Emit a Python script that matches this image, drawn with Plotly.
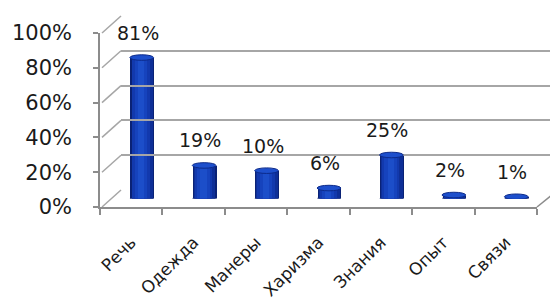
import plotly.graph_objects as go

categories = ["Речь", "Одежда", "Манеры", "Харизма", "Знания", "Опыт", "Связи"]
bar_heights = [81, 19, 16, 6, 25, 2, 1]
bar_labels = ["81%", "19%", "10%", "6%", "25%", "2%", "1%"]
y_ticks = [0, 20, 40, 60, 80, 100]
y_tick_labels = ["0%", "20%", "40%", "60%", "80%", "100%"]

W, H = 550, 300
FONT = "DejaVu Sans"
GRID = "#a6a6a6"
AXIS = "#8c8c8c"

def px(x):
    return x / W

def py(y):
    return 1 - y / H

# perspective geometry (pixels)
front = dict(x0=100, x1=537, y0=207, y1=33)
depth_dx, depth_dy = 21, -17
mid = dict(x0=front["x0"] + depth_dx / 2, x1=front["x1"] + depth_dx / 2,
           y0=front["y0"] + depth_dy / 2, y1=front["y1"] + depth_dy / 2)
back = dict(x0=front["x0"] + depth_dx, y0=front["y0"] + depth_dy,
            y1=front["y1"] + depth_dy)

n = len(categories)
xs = list(range(n))
xr = [-0.5, n - 0.5]

fig = go.Figure()

# cylinder shading as overlaid bars (outer dark -> inner bright)
layers = [
    (0.38, "#0a2275"),
    (0.34, "#0e2f97"),
    (0.28, "#1239ad"),
    (0.20, "#1643bd"),
    (0.10, "#1c4ec9"),
]
for w, c in layers:
    fig.add_trace(go.Bar(x=xs, y=bar_heights, width=w, marker=dict(color=c, line=dict(width=0)),
                         offset=-w / 2 - 0.02 if w < 0.3 else -w / 2,
                         xaxis="x", yaxis="y", hoverinfo="skip", showlegend=False))

# invisible helpers for other subplots
fig.add_trace(go.Scatter(x=xs, y=bar_heights, mode="markers", marker=dict(opacity=0),
                         xaxis="x2", yaxis="y2", hoverinfo="skip", showlegend=False))
fig.add_trace(go.Scatter(x=xs, y=bar_heights, mode="markers", marker=dict(opacity=0),
                         xaxis="x3", yaxis="y3", hoverinfo="skip", showlegend=False))

shapes = []
half_w = layers[0][0] / 2
for i, v in enumerate(bar_heights):
    shapes.append(dict(type="circle", xref="x", yref="y", x0=i - half_w, x1=i + half_w,
                       y0=-1.6, y1=1.6, fillcolor="#0a2275", line=dict(width=0), layer="below"))
    shapes.append(dict(type="circle", xref="x", yref="y", x0=i - half_w, x1=i + half_w,
                       y0=v - 1.6, y1=v + 1.6, fillcolor="#1d4fcc",
                       line=dict(color="#0c2a8a", width=1)))

# side wall diagonals at each tick level
scale_f = (front["y0"] - front["y1"]) / 100
for v in y_ticks:
    yf = front["y0"] - v * scale_f
    yb = back["y0"] - v * scale_f
    shapes.append(dict(type="line", xref="paper", yref="paper",
                       x0=px(front["x0"] + 2), y0=py(yf), x1=px(back["x0"]), y1=py(yb),
                       line=dict(color=GRID, width=1.5), layer="below"))
# floor right diagonal
shapes.append(dict(type="line", xref="paper", yref="paper",
                   x0=px(front["x1"]), y0=py(front["y0"]),
                   x1=px(front["x1"] + depth_dx), y1=py(front["y0"] + depth_dy),
                   line=dict(color=AXIS, width=1.5), layer="below"))

annotations = []
for i, (v, t) in enumerate(zip(bar_heights, bar_labels)):
    annotations.append(dict(x=i, y=v, xref="x", yref="y", text=t, showarrow=False,
                            yanchor="bottom", yshift=12, xshift=-4,
                            font=dict(family=FONT, size=19, color="#1a1a1a")))

fig.update_layout(
    width=W, height=H,
    margin=dict(l=0, r=0, t=0, b=0, autoexpand=False),
    paper_bgcolor="white", plot_bgcolor="rgba(0,0,0,0)",
    barmode="overlay", bargap=0,
    showlegend=False,
    shapes=shapes,
    annotations=annotations,
    xaxis=dict(domain=[px(mid["x0"]), px(mid["x1"])], range=xr, visible=False, anchor="y"),
    yaxis=dict(domain=[py(mid["y0"]), py(mid["y1"])], range=[0, 100], visible=False, anchor="x"),
    xaxis2=dict(domain=[px(back["x0"]), 1], range=[0, 1], visible=False, anchor="y2"),
    yaxis2=dict(domain=[py(back["y0"]), py(back["y1"])], range=[0, 100], anchor="x2",
                tickvals=y_ticks, showgrid=True, gridcolor=GRID, gridwidth=1.5,
                showticklabels=False, zeroline=False, showline=False, ticks=""),
    xaxis3=dict(domain=[px(front["x0"]), px(front["x1"])], range=xr, anchor="y3",
                tickvals=xs, ticktext=categories, tickangle=-45, ticks="",
                showgrid=False, zeroline=False, showline=True, linecolor=AXIS, linewidth=1.5,
                minor=dict(tickvals=[x - 0.5 for x in xs] + [n - 0.5], ticks="outside",
                           ticklen=6, tickcolor=AXIS, tickwidth=1.5, showgrid=False),
                ticklabelstandoff=17, automargin=False,
                tickfont=dict(family=FONT, size=17, color="#1a1a1a")),
    yaxis3=dict(domain=[py(front["y0"]), py(front["y1"])], range=[0, 100], anchor="x3",
                tickvals=y_ticks, ticktext=y_tick_labels, ticks="outside", ticklen=5,
                tickcolor=AXIS, tickwidth=1.5, showgrid=False, zeroline=False,
                showline=True, linecolor=AXIS, linewidth=1.5, ticklabelstandoff=17,
                automargin=False,
                tickfont=dict(family=FONT, size=21, color="#1a1a1a")),
)

fig.write_html("out.html", config={"displayModeBar": False},
               post_script="document.body.style.margin='0';")
